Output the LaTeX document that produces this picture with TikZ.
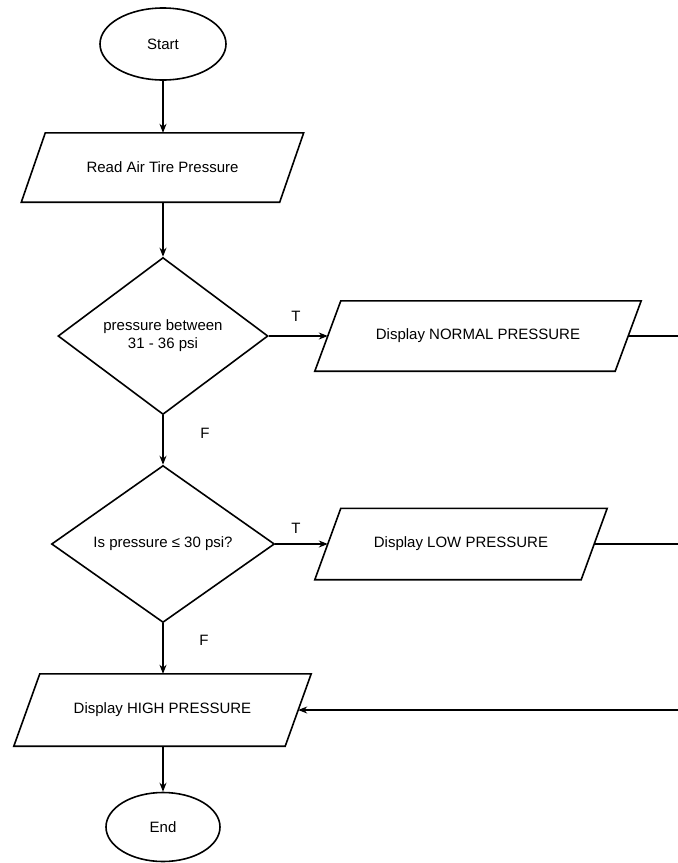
\documentclass[tikz,border=0pt]{standalone}
\usepackage{fontspec}
\setmainfont{Liberation Sans}
\usetikzlibrary{shapes.geometric,arrows.meta}
\tikzset{
  every node/.style={font=\fontsize{15}{18}\selectfont, align=center},
  term/.style={ellipse, draw, line width=1.6pt, inner sep=0pt},
  iobox/.style={rectangle, inner sep=0pt},
  decide/.style={diamond, draw, line width=1.6pt, inner sep=0pt},
  para/.style={line width=1.6pt, line join=miter},
  conn/.style={line width=1.1pt, -{Stealth[length=9pt,width=7pt]}},
  plain/.style={line width=1.1pt},
  lbl/.style={inner sep=0pt}
}
\newcommand{\parabox}[2]{%
  \draw[para] ([xshift=#2]#1.north west) -- ([xshift=#2]#1.north east) -- ([xshift=-#2]#1.south east) -- ([xshift=-#2]#1.south west) -- cycle;}
\begin{document}
\begin{tikzpicture}[x=1pt,y=-1pt]
\useasboundingbox (0,0) rectangle (678,863);
\node[term, minimum width=126pt, minimum height=72pt] (start) at (163,44) {Start};
\node[iobox, minimum width=258pt, minimum height=69pt] (read) at (162.5,167.5) {Read Air Tire Pressure};
\parabox{read}{12pt}
\node[decide, minimum width=210pt, minimum height=157pt] (d1) at (163,336) {pressure between\\31 - 36 psi};
\node[iobox, minimum width=300pt, minimum height=70pt] (normal) at (478,336) {Display NORMAL PRESSURE};
\parabox{normal}{13pt}
\node[decide, minimum width=223pt, minimum height=157pt] (d2) at (163,544) {Is pressure ≤ 30 psi?};
\node[iobox, minimum width=266pt, minimum height=71pt] (low) at (461,544) {Display LOW PRESSURE};
\parabox{low}{13pt}
\node[iobox, minimum width=271pt, minimum height=72pt] (high) at (162.5,710) {Display HIGH PRESSURE};
\parabox{high}{13pt}
\node[term, minimum width=114pt, minimum height=69pt] (end) at (163,827) {End};
\coordinate (rn) at (678,336);
\coordinate (rl) at (678,544);
\coordinate (rh) at (678,710);
\draw[conn] (start) -- (read.north -| start);
\draw[conn] (read.south -| start) -- (d1);
\draw[conn] (d1) -- (normal.west);
\draw[conn] (d1) -- (d2);
\draw[conn] (d2) -- (low.west);
\draw[conn] (d2) -- (high.north -| d2);
\draw[conn] (high.south -| end) -- (end);
\draw[plain] (normal.east) -- (rn);
\draw[plain] (low.east) -- (rl);
\draw[conn] (rh) -- (high.east);
\node[lbl] (t1) at (296,316) {T};
\node[lbl] (f1) at (205,433) {F};
\node[lbl] (t2) at (296,528) {T};
\node[lbl] (f2) at (204,640) {F};
\end{tikzpicture}
\end{document}
